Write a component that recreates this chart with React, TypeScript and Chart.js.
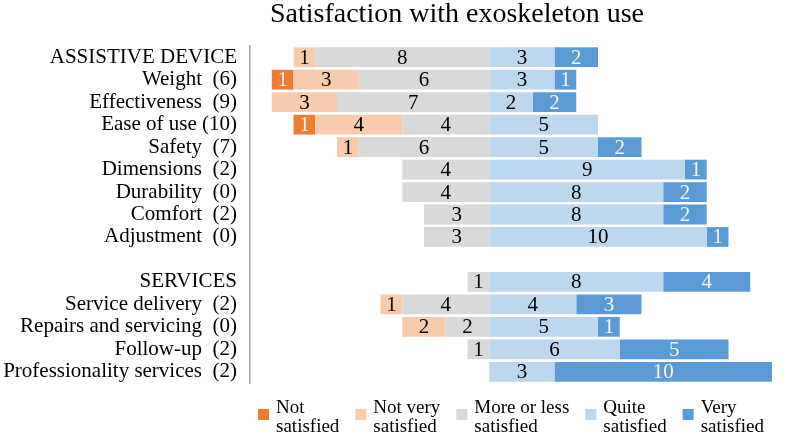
import React, { useEffect, useRef } from "react";
import { Chart, registerables } from "chart.js";

Chart.register(...registerables);

const categories = [
  "ASSISTIVE DEVICE",
  "Weight  (6)",
  "Effectiveness  (9)",
  "Ease of use (10)",
  "Safety  (7)",
  "Dimensions  (2)",
  "Durability  (0)",
  "Comfort  (2)",
  "Adjustment  (0)",
  "",
  "SERVICES",
  "Service delivery  (2)",
  "Repairs and servicing  (0)",
  "Follow-up  (2)",
  "Professionality services  (2)",
];

const notSatisfied = [0, 1, 0, 1, 0, 0, 0, 0, 0, 0, 0, 0, 0, 0, 0];
const notVerySatisfied = [1, 3, 3, 4, 1, 0, 0, 0, 0, 0, 0, 1, 2, 0, 0];
const moreOrLessSatisfied = [8, 6, 7, 4, 6, 4, 4, 3, 3, 0, 1, 4, 2, 1, 0];
const quiteSatisfied = [3, 3, 2, 5, 5, 9, 8, 8, 10, 0, 8, 4, 5, 6, 3];
const verySatisfied = [2, 1, 2, 0, 2, 1, 2, 2, 1, 0, 4, 3, 1, 5, 10];

const legendLabels = [
  ["Not", "satisfied"],
  ["Not very", "satisfied"],
  ["More or less", "satisfied"],
  ["Quite", "satisfied"],
  ["Very", "satisfied"],
];

const COLORS = ["#ED7D31", "#F8CBAD", "#D9D9D9", "#BDD7EE", "#5B9BD5"];
const LABEL_COLORS = ["#f4f4f4", "#000000", "#000000", "#000000", "#f4f4f4"];
const SERIF = "'Liberation Serif', 'Times New Roman', serif";

const titlePlugin = {
  id: "customTitle",
  afterDraw(chart: any) {
    const ctx = chart.ctx;
    ctx.save();
    ctx.font = `28px ${SERIF}`;
    ctx.fillStyle = "#000";
    ctx.textAlign = "center";
    ctx.textBaseline = "alphabetic";
    ctx.fillText("Satisfaction with exoskeleton use", 457, 22);
    ctx.restore();
  },
};

const valueLabelPlugin = {
  id: "valueLabels",
  afterDatasetsDraw(chart: any) {
    const ctx = chart.ctx;
    ctx.save();
    ctx.font = `21px ${SERIF}`;
    ctx.textAlign = "center";
    ctx.textBaseline = "middle";
    chart.data.datasets.forEach((ds: any, di: number) => {
      const meta = chart.getDatasetMeta(di);
      meta.data.forEach((el: any, i: number) => {
        const v = ds.data[i];
        if (!v) return;
        ctx.fillStyle = ds.labelColor;
        ctx.fillText(String(Math.abs(v)), (el.x + el.base) / 2, el.y + 1);
      });
    });
    ctx.restore();
  },
};

const legendPlugin = {
  id: "customLegend",
  afterDraw(chart: any) {
    const ctx = chart.ctx;
    const area = chart.chartArea;
    ctx.save();
    ctx.font = `19px ${SERIF}`;
    const box = 11;
    const gapBox = 7;
    const gapItem = 16;
    const widths = legendLabels.map((lines) =>
      Math.max(...lines.map((l) => ctx.measureText(l).width))
    );
    const total =
      widths.reduce((a, w) => a + box + gapBox + w, 0) +
      gapItem * (widths.length - 1);
    let x = (area.left + area.right) / 2 - total / 2;
    const y1 = area.bottom + 30;
    const y2 = y1 + 19;
    legendLabels.forEach((lines, i) => {
      ctx.fillStyle = COLORS[i];
      ctx.fillRect(x, y1 - 4, box, box);
      ctx.fillStyle = "#000";
      ctx.textAlign = "left";
      ctx.textBaseline = "alphabetic";
      ctx.fillText(lines[0], x + box + gapBox, y1);
      ctx.fillText(lines[1], x + box + gapBox, y2);
      x += box + gapBox + widths[i] + gapItem;
    });
    ctx.restore();
  },
};

export default function App() {
  const ref = useRef<HTMLCanvasElement | null>(null);

  useEffect(() => {
    if (!ref.current) return;
    const neg = (arr: number[]) => arr.map((v) => -v);
    const mk = (label: string, data: number[], idx: number) => ({
      label,
      data,
      backgroundColor: COLORS[idx],
      borderWidth: 0,
      labelColor: LABEL_COLORS[idx],
      barPercentage: 0.88,
      categoryPercentage: 1,
    });
    const chart = new Chart(ref.current, {
      type: "bar",
      data: {
        labels: categories,
        datasets: [
          mk("More or less satisfied", neg(moreOrLessSatisfied), 2),
          mk("Not very satisfied", neg(notVerySatisfied), 1),
          mk("Not satisfied", neg(notSatisfied), 0),
          mk("Quite satisfied", quiteSatisfied, 3),
          mk("Very satisfied", verySatisfied, 4),
        ] as any,
      },
      options: {
        indexAxis: "y",
        animation: false,
        responsive: false,
        maintainAspectRatio: false,
        layout: { padding: { left: 0, right: 15, top: 46, bottom: 55 } },
        plugins: {
          legend: { display: false },
          title: { display: false },
          tooltip: { enabled: false },
        },
        scales: {
          x: {
            stacked: true,
            display: false,
            min: -11,
            max: 13,
          },
          y: {
            stacked: true,
            grid: { display: false, drawTicks: false },
            border: { display: true, color: "#a6a6a6", width: 1.5 },
            ticks: {
              color: "#000",
              padding: 13,
              autoSkip: false,
              font: { family: SERIF, size: 21 },
            },
            afterFit(scale: any) {
              scale.width = 250;
            },
          },
        },
      } as any,
      plugins: [titlePlugin, valueLabelPlugin, legendPlugin],
    });
    return () => chart.destroy();
  }, []);

  return (
    <div style={{ position: "fixed", left: 0, top: 0, width: 787, height: 438, background: "#fff" }}>
      <canvas ref={ref} width={787} height={438} style={{ width: 787, height: 438 }} />
    </div>
  );
}
